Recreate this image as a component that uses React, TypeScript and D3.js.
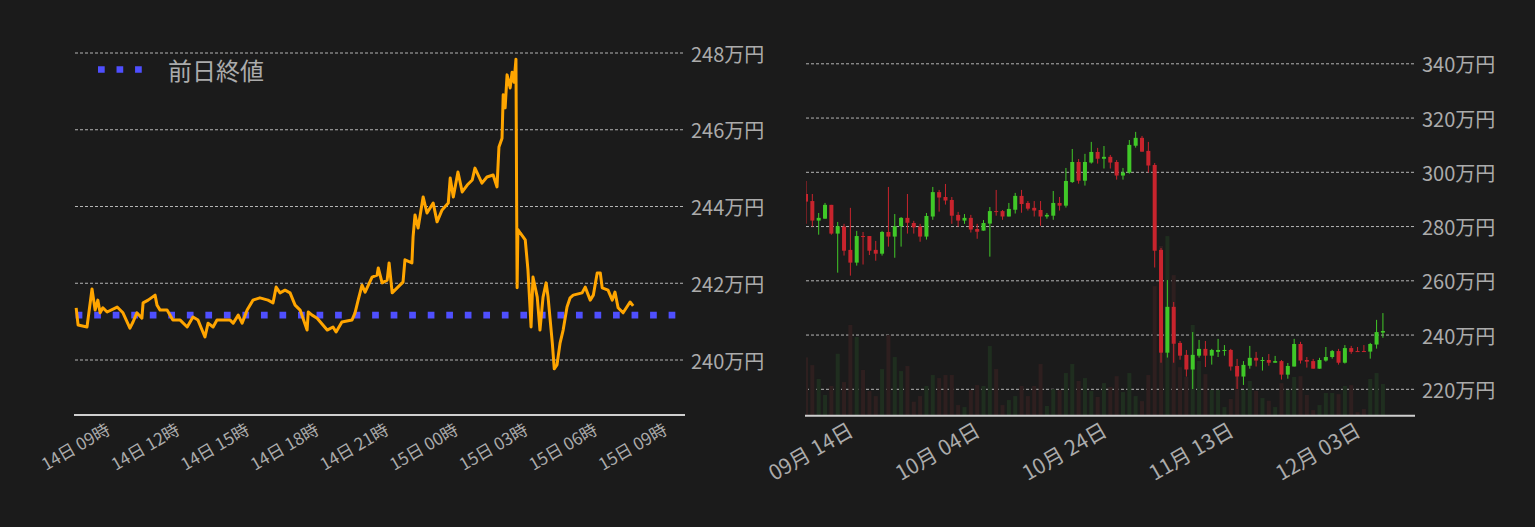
import React from "react";
import * as d3 from "d3";

const FONT = "'Noto Sans CJK JP', 'Noto Sans', sans-serif";
const BG = "#1b1b1b";

// ---------- Left chart: intraday (minutes since 14日 00:00) ----------
const intradayMinutes = [
  476, 481, 504, 517, 525, 532, 538, 545, 556, 582, 597, 615, 623, 633, 646, 649, 662, 680, 685, 693,
  711, 726, 745, 763, 778, 791, 809, 817, 830, 840, 874, 882, 895, 905, 918, 933, 951, 972, 985, 993,
  1003, 1016, 1029, 1042, 1055, 1073, 1076, 1086, 1099, 1125, 1140, 1148, 1163, 1189, 1197, 1205, 1215, 1223, 1241, 1254,
  1257, 1267, 1280, 1285, 1293, 1313, 1321, 1326, 1344, 1347, 1352, 1360, 1373, 1383, 1399, 1409, 1422, 1438, 1443, 1451,
  1463, 1474, 1487, 1500, 1507, 1525, 1538, 1554, 1564, 1569, 1577, 1580, 1585, 1590, 1598, 1603, 1608, 1613, 1615, 1616,
  1618, 1624, 1637, 1644, 1652, 1657, 1668, 1675, 1683, 1691, 1696, 1707, 1712, 1719, 1727, 1735, 1745, 1753, 1761, 1784,
  1792, 1805, 1813, 1823, 1831, 1836, 1851, 1862, 1869, 1877, 1890, 1908, 1916,
];
const intradayPrices = [
  241.36, 240.91, 240.86, 241.85, 241.3, 241.56, 241.23, 241.36, 241.25, 241.38, 241.23, 240.83, 240.99, 241.23, 241.09, 241.49, 241.56, 241.69, 241.43, 241.3,
  241.3, 241.04, 241.04, 240.86, 241.12, 241.04, 240.6, 240.96, 240.86, 241.04, 241.04, 240.96, 241.17, 240.96, 241.3, 241.56, 241.62, 241.56, 241.49, 241.9,
  241.75, 241.82, 241.75, 241.43, 241.3, 240.78, 241.25, 241.17, 241.09, 240.78, 240.86, 240.73, 240.99, 241.04, 241.23, 241.56, 241.95, 241.77, 242.16, 242.21,
  242.4, 242.01, 242.08, 242.53, 241.75, 241.95, 242.03, 242.61, 242.53, 243.21, 243.78, 243.44, 244.25, 243.83, 244.09, 243.6, 243.91, 244.09, 244.74, 244.25,
  244.9, 244.38, 244.56, 244.69, 245.0, 244.61, 244.77, 244.82, 244.51, 245.55, 245.78, 246.91, 246.57, 247.43, 247.09, 247.5, 247.24, 247.84, 243.6, 241.88,
  243.4, 243.31, 243.13, 242.35, 240.86, 242.16, 241.64, 240.78, 241.64, 242.01, 241.64, 240.44, 239.77, 239.87, 240.44, 240.78, 241.38, 241.62, 241.69, 241.75,
  241.9, 241.56, 241.69, 242.27, 242.27, 241.88, 241.82, 241.56, 241.77, 241.36, 241.23, 241.51, 241.41,
];
const previousClose = 241.17;
const leftPriceTicks = [240, 242, 244, 246, 248];
const leftTimeTicks = [540, 720, 900, 1080, 1260, 1440, 1620, 1800, 1980];
const legendLabel = "前日終値";

// ---------- Right chart: daily candles starting 09月 08日 ----------
const candleStartDate = new Date(2023, 8, 8);
const candleOpen = [
  292.0, 289.4, 282.2, 282.9, 288.0, 277.4, 280.0, 271.4, 266.7, 276.5,
  276.5, 271.4, 270.0, 278.0, 276.3, 280.1, 283.2, 281.3, 280.0, 276.3,
  283.7, 292.7, 290.9, 289.8, 284.3, 282.2, 283.2, 279.1, 278.5, 281.1,
  285.7, 285.7, 283.7, 286.2, 291.3, 288.7, 286.9, 286.1, 283.7, 284.0,
  288.7, 287.7, 296.4, 303.8, 296.9, 303.6, 307.5, 305.0, 305.7, 303.8,
  298.8, 299.9, 309.8, 312.7, 307.9, 302.7, 271.4, 233.5, 250.4, 237.1,
  232.7, 227.3, 232.4, 234.9, 232.4, 233.8, 234.3, 234.5, 228.6, 224.7,
  228.7, 231.6, 230.6, 230.8, 229.8, 230.4, 225.4, 228.4, 236.7, 230.8,
  230.4, 227.6, 230.6, 231.9, 234.1, 229.8, 235.2, 234.1, 234.1, 233.9,
  236.5, 240.9,
];
const candleClose = [
  289.2, 282.2, 283.2, 288.0, 277.4, 280.1, 271.1, 266.7, 276.5, 276.3,
  271.1, 270.0, 278.0, 276.3, 280.1, 283.2, 281.4, 279.7, 276.3, 283.9,
  292.7, 290.7, 289.6, 284.0, 282.2, 283.2, 278.9, 278.1, 281.3, 285.7,
  285.5, 283.7, 286.5, 291.3, 288.3, 286.6, 285.9, 283.7, 284.3, 288.7,
  287.7, 296.8, 303.8, 296.9, 303.8, 307.5, 305.0, 305.7, 303.6, 298.8,
  299.9, 310.1, 312.7, 307.6, 302.5, 271.1, 233.5, 250.4, 236.8, 232.4,
  227.3, 232.7, 234.9, 232.4, 234.5, 234.5, 234.5, 228.4, 224.7, 229.0,
  231.6, 230.6, 230.8, 229.8, 230.4, 225.4, 228.6, 236.7, 230.6, 230.2,
  227.6, 230.8, 231.9, 234.1, 229.8, 235.2, 233.8, 233.9, 233.9, 236.7,
  241.1, 241.5,
];
const candleHigh = [
  296.8, 292.0, 285.0, 288.7, 288.0, 281.7, 281.0, 286.9, 278.4, 278.0,
  276.5, 274.7, 278.4, 294.6, 284.6, 283.5, 292.0, 282.1, 281.0, 285.0,
  294.6, 293.5, 295.7, 290.9, 285.4, 284.6, 284.3, 281.0, 282.4, 287.2,
  293.5, 286.1, 288.7, 292.4, 293.5, 289.4, 289.4, 289.4, 285.0, 293.1,
  290.9, 301.6, 308.6, 304.9, 306.8, 311.2, 309.0, 309.7, 306.4, 304.5,
  301.6, 311.9, 314.9, 313.4, 311.2, 303.4, 272.1, 260.3, 252.2, 237.8,
  234.5, 241.1, 238.2, 237.8, 234.9, 238.6, 236.3, 234.9, 231.2, 230.4,
  236.0, 233.8, 231.9, 233.0, 232.3, 230.8, 229.7, 238.6, 237.5, 231.9,
  231.2, 231.6, 235.6, 234.5, 234.9, 236.3, 236.0, 235.6, 236.3, 237.1,
  245.6, 248.1,
];
const candleLow = [
  281.0, 280.0, 277.0, 282.9, 277.0, 263.0, 269.3, 261.9, 265.6, 266.0,
  269.5, 267.4, 269.3, 272.6, 268.5, 272.6, 277.4, 277.4, 274.4, 275.2,
  282.5, 285.5, 288.1, 281.0, 280.0, 281.0, 277.8, 275.5, 278.5, 268.9,
  284.0, 282.5, 283.7, 284.8, 285.1, 285.9, 283.7, 280.3, 282.9, 282.5,
  285.9, 287.0, 296.1, 295.8, 295.1, 303.2, 303.2, 301.4, 301.4, 297.3,
  297.3, 299.5, 309.1, 307.6, 299.9, 264.9, 229.8, 231.7, 229.8, 230.9,
  224.7, 220.1, 231.7, 228.2, 229.1, 231.9, 232.4, 226.9, 220.1, 221.6,
  227.6, 228.4, 226.9, 228.7, 229.8, 223.6, 223.9, 228.4, 229.5, 228.0,
  227.6, 227.6, 230.2, 231.3, 229.1, 229.5, 233.1, 233.9, 233.9, 231.3,
  235.0, 239.0,
];
const candleVolume = [
  32.4, 28.1, 20.4, 11.5, 16.5, 34.4, 18.7, 50.4, 43.7, 25.4,
  13.7, 10.9, 25.9, 44.8, 32.6, 24.8, 27.6, 7.8, 10.9, 16.5,
  22.6, 20.9, 22.6, 22.6, 5.9, 4.8, 14.3, 17.0, 16.5, 38.7,
  25.9, 5.9, 8.7, 10.9, 16.5, 10.9, 16.5, 28.7, 5.4, 14.8,
  14.3, 23.7, 28.7, 19.3, 20.9, 13.7, 10.4, 18.1, 15.9, 22.0,
  13.1, 23.7, 10.9, 8.1, 22.6, 72.0, 94.3, 99.8, 78.1, 27.0,
  21.5, 50.4, 30.4, 23.1, 14.3, 14.3, 4.8, 9.3, 21.7, 14.3,
  19.3, 13.9, 9.8, 8.3, 4.8, 18.1, 14.3, 21.5, 22.0, 11.5,
  3.1, 5.9, 12.6, 12.6, 12.0, 16.5, 17.0, 2.0, 3.7, 20.4,
  23.7, 17.6,
];
const rightPriceTicks = [220, 240, 260, 280, 300, 320, 340];
const rightDateTicks = [
  new Date(2023, 8, 14),
  new Date(2023, 9, 4),
  new Date(2023, 9, 24),
  new Date(2023, 10, 13),
  new Date(2023, 11, 3),
];

const UP = "#40c828";
const DOWN = "#c8242d";
const UP_VOL = "#1f2e1f";
const DOWN_VOL = "#2e1f1f";
const GRID = "#b4b4b4";
const TEXT = "#ababab";

export default function App() {
  // left scales
  const xL = d3.scaleLinear().domain([473, 2050]).range([75, 685]);
  const yL = d3.scaleLinear().domain([240, 248]).range([360, 53]);
  const leftBase = 415;
  const linePts = intradayMinutes.map((m, i) => [m, intradayPrices[i]] as [number, number]);
  const linePath = d3
    .line<[number, number]>()
    .x((d) => xL(d[0]))
    .y((d) => yL(d[1]))(linePts) || "";
  const fmtMin = (m: number) => {
    const day = 14 + Math.floor(m / 1440);
    const h = Math.floor((m % 1440) / 60);
    return `${day}日 ${String(h).padStart(2, "0")}時`;
  };

  // right scales
  const dayMs = 86400000;
  const xR = d3
    .scaleTime()
    .domain([candleStartDate, new Date(candleStartDate.getTime() + 96.06 * dayMs)])
    .range([806, 1415]);
  const yR = d3.scaleLinear().domain([220, 340]).range([389.3, 63.8]);
  const rightBase = 415.7;
  const yV = d3.scaleLinear().domain([0, 100]).range([rightBase, rightBase - 180]);
  const fmtDate = d3.timeFormat("%m月 %d日");
  const candles = candleOpen.map((o, i) => ({
    date: new Date(2023, 8, 8 + i),
    o,
    c: candleClose[i],
    h: candleHigh[i],
    l: candleLow[i],
    v: candleVolume[i],
  }));
  const bw = 4;

  return (
    <svg
      width={1535}
      height={527}
      style={{ position: "absolute", left: 0, top: 0, display: "block", background: BG }}
      fontFamily={FONT}
    >
      <rect x={0} y={0} width={1535} height={527} fill={BG} />
      <defs>
        <clipPath id="rclip">
          <rect x={806} y={0} width={609} height={rightBase} />
        </clipPath>
      </defs>

      {/* ---------- left chart ---------- */}
      {leftPriceTicks.map((t) => (
        <g key={"lg" + t}>
          <line x1={75} x2={684} y1={yL(t)} y2={yL(t)} stroke={GRID} strokeWidth={1} strokeDasharray="3 2" />
          <text x={691} y={yL(t)} dominantBaseline="central" fontSize={20} fill={TEXT}>
            {t}万円
          </text>
        </g>
      ))}
      <line
        x1={xL(intradayMinutes[0]) - 0.5}
        x2={677}
        y1={yL(previousClose)}
        y2={yL(previousClose)}
        stroke="#4f4fff"
        strokeWidth={6.7}
        strokeDasharray="6.7 11.83"
      />
      <path d={linePath} fill="none" stroke="#ffa500" strokeWidth={3} strokeLinejoin="round" />
      <line x1={74} x2={685} y1={leftBase} y2={leftBase} stroke="#cfcfcf" strokeWidth={2} />
      {leftTimeTicks.map((m) => (
        <g key={"lt" + m} transform={`translate(${xL(m)},${leftBase})`}>
          <text y={9} dy="0.71em" transform="rotate(-30)" textAnchor="end" fontSize={17} fill={TEXT}>
            {fmtMin(m)}
          </text>
        </g>
      ))}
      {/* legend */}
      <line x1={98} x2={143} y1={69.5} y2={69.5} stroke="#4f4fff" strokeWidth={6.7} strokeDasharray="6.7 11.83" />
      <text x={168} y={69} dominantBaseline="central" fontSize={24} fill={TEXT}>
        {legendLabel}
      </text>

      {/* ---------- right chart ---------- */}
      {rightPriceTicks.map((t) => (
        <g key={"rg" + t}>
          <line x1={806} x2={1415} y1={yR(t)} y2={yR(t)} stroke={GRID} strokeWidth={1} strokeDasharray="3 2" />
          <text x={1422} y={yR(t)} dominantBaseline="central" fontSize={20} fill={TEXT}>
            {t}万円
          </text>
        </g>
      ))}
      <g clipPath="url(#rclip)">
        {candles.map((d, i) => (
          <rect
            key={"v" + i}
            x={xR(d.date) - bw / 2}
            y={yV(d.v)}
            width={bw}
            height={rightBase - yV(d.v)}
            fill={d.c >= d.o ? UP_VOL : DOWN_VOL}
          />
        ))}
        {candles.map((d, i) => {
          const up = d.c >= d.o;
          const col = up ? UP : DOWN;
          const x = xR(d.date);
          const top = yR(Math.max(d.o, d.c));
          const bot = yR(Math.min(d.o, d.c));
          return (
            <g key={"c" + i}>
              <line x1={x} x2={x} y1={yR(d.h)} y2={yR(d.l)} stroke={col} strokeWidth={1} />
              <rect x={x - bw / 2} y={top} width={bw} height={Math.max(1, bot - top)} fill={col} />
            </g>
          );
        })}
      </g>
      <line x1={805} x2={1415} y1={rightBase} y2={rightBase} stroke="#cfcfcf" strokeWidth={2} />
      {rightDateTicks.map((d) => (
        <g key={"rt" + d.getTime()} transform={`translate(${xR(d)},${rightBase})`}>
          <text y={7} dy="0.71em" transform="rotate(-30)" textAnchor="end" fontSize={21} fill={TEXT}>
            {fmtDate(d)}
          </text>
        </g>
      ))}
    </svg>
  );
}
